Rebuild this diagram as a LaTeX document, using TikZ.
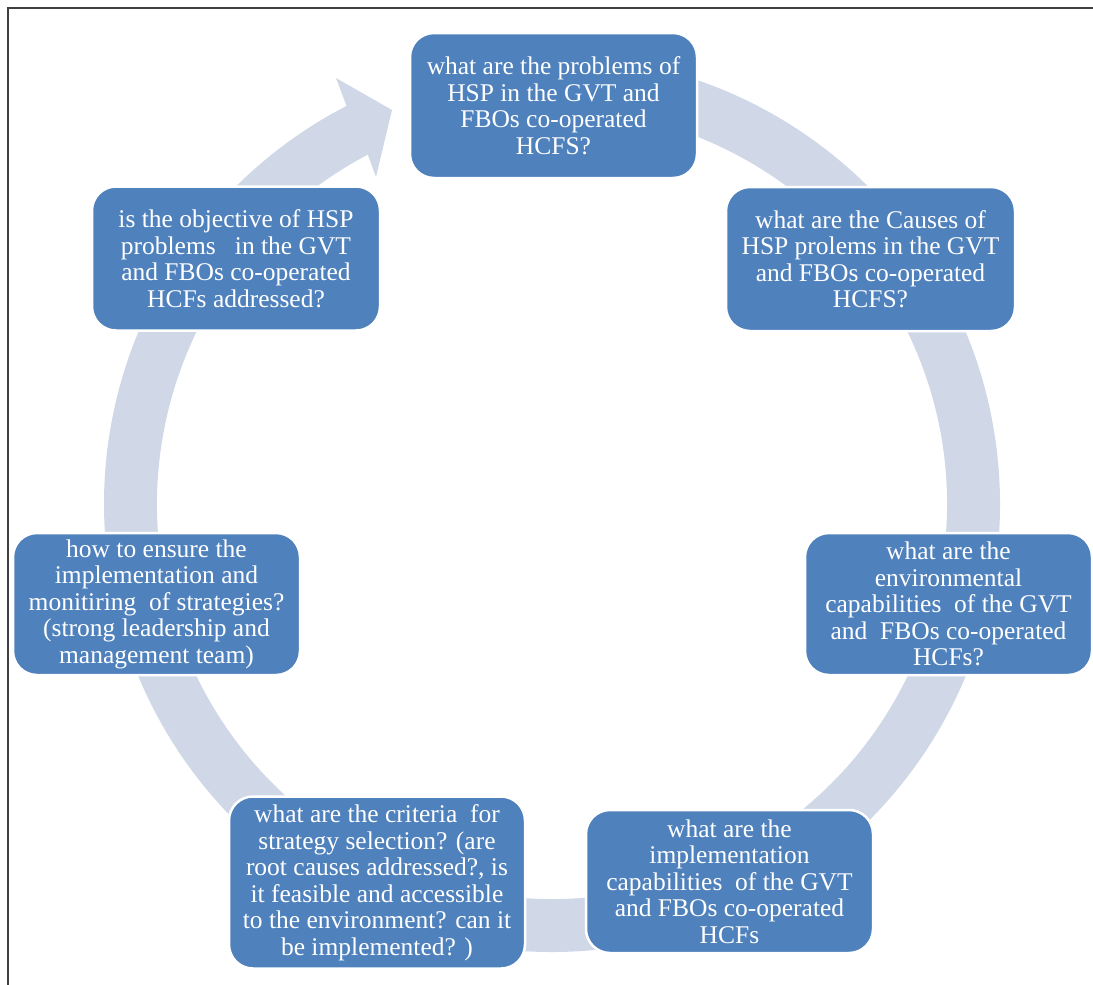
\documentclass[tikz,border=0pt]{standalone}
\usepackage{fontspec}
\setmainfont{Liberation Serif}
\definecolor{boxblue}{HTML}{4F81BD}
\definecolor{ringblue}{HTML}{D0D8E8}
\definecolor{framegray}{HTML}{404040}
\begin{document}
\begin{tikzpicture}[x=1pt,y=1pt,
  qbox/.style={rectangle, rounded corners=24pt, fill=boxblue, draw=white,
    line width=2.5pt, text=white, align=center, inner sep=0pt,
    font=\fontsize{25.5}{26.5}\selectfont},
  ring/.style={fill=ringblue, draw=none}]
\useasboundingbox (0,0) rectangle (1093,-985);
% frame
\draw[framegray, line width=2pt] (1093,-8) -- (8,-8) -- (8,-985);
% circular arrow
\coordinate (C) at (552,-504);
\path[ring] ([shift={(552,-504)}]95:448pt)
  arc[start angle=95, end angle=-242.7, radius=448pt]
  -- (336,-78) -- (392,-110) -- (376,-177)
  -- ([shift={(552,-504)}]-242.2:395pt)
  arc[start angle=-242.2, end angle=95, radius=395pt] -- cycle;
% boxes
\node[qbox, minimum width=287pt, minimum height=145pt] (t) at (553.5,-105.5)
  {what are the problems of\\HSP in the GVT and\\FBOs co-operated\\HCFS?};
\node[qbox, minimum width=289pt, minimum height=144pt] (tr) at (870.5,-259)
  {what are the Causes of\\HSP prolems in the GVT\\and FBOs co-operated\\HCFS?};
\node[qbox, minimum width=287pt, minimum height=142pt] (r) at (948.5,-604)
  {what are the\\environmental\\capabilities\ \ of the GVT\\and\ \ FBOs co-operated\\HCFs?};
\node[qbox, minimum width=287pt, minimum height=143pt] (br) at (729.5,-881.5)
  {what are the\\implementation\\capabilities\ \ of the GVT\\and FBOs co-operated\\HCFs};
\node[qbox, minimum width=296pt, minimum height=172pt] (bl) at (377,-882.5)
  {what are the criteria\ \ for\\strategy selection? (are\\root causes addressed?, is\\it feasible and accessible\\to the environment? can it\\be implemented? )};
\node[qbox, minimum width=287pt, minimum height=142pt] (l) at (156.5,-604)
  {how to ensure the\\implementation and\\monitiring\ \ of strategies?\\(strong leadership and\\management team)};
\node[qbox, minimum width=288pt, minimum height=144pt] (tl) at (236,-258.5)
  {is the objective of HSP\\problems\ \ \ in the GVT\\and FBOs co-operated\\HCFs addressed?};
\end{tikzpicture}
\end{document}
